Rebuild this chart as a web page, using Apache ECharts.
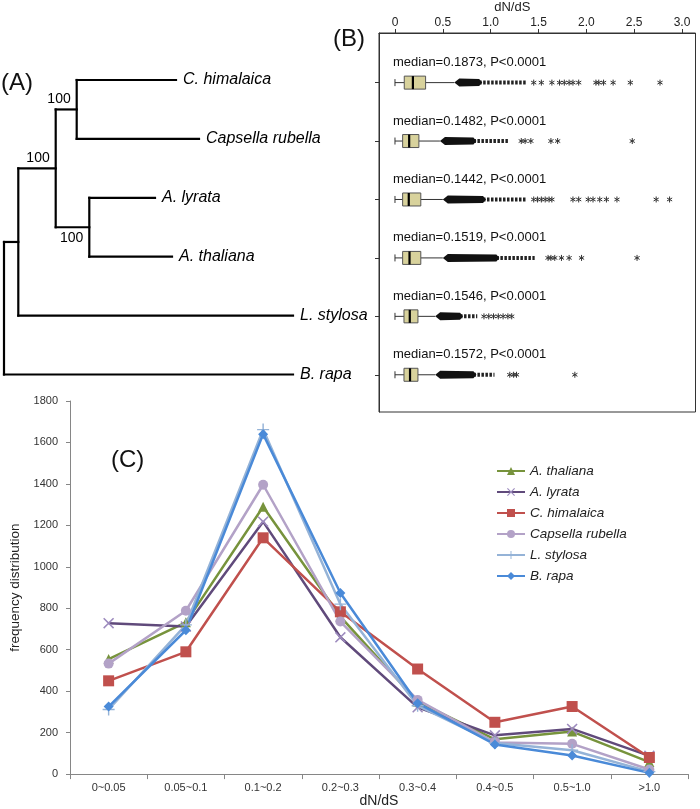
<!DOCTYPE html>
<html><head><meta charset="utf-8">
<script src="https://cdn.jsdelivr.net/npm/echarts@6/dist/echarts.min.js"></script>
<style>html,body{margin:0;padding:0;background:#fff}#c{width:700px;height:809px}</style>
</head><body><div id="c"></div><script>
// ---------- Panel A: tree ----------
const leafNames = ['C. himalaica', 'Capsella rubella', 'A. lyrata', 'A. thaliana', 'L. stylosa', 'B. rapa'];
const leafDepth = [172, 195, 151, 168, 289, 289];
const nodeNames = ['root', 'n1', 'n2', 'n3', 'n4'];
const nodeDepth = [0, 14.3, 51.7, 72.7, 85.3];
const nodeChildren = [['n1', 'B. rapa'], ['n2', 'L. stylosa'], ['n3', 'n4'], ['C. himalaica', 'Capsella rubella'], ['A. lyrata', 'A. thaliana']];
const nodeSupport = [null, null, '100', '100', '100'];
const nodeSupportSide = [null, null, 'above', 'above', 'below'];

// ---------- Panel B: dN/dS boxplots ----------
const boxQ1 = [0.097, 0.080, 0.080, 0.080, 0.094, 0.094];
const boxMedian = [0.1873, 0.1482, 0.1442, 0.1519, 0.1546, 0.1572];
const boxQ3 = [0.320, 0.250, 0.270, 0.270, 0.240, 0.240];
const whiskerHigh = [0.62, 0.47, 0.50, 0.50, 0.42, 0.42];
const denseEnd = [0.88, 0.82, 0.92, 1.06, 0.68, 0.82];
const chainEnd = [1.38, 1.18, 1.38, 1.46, 0.86, 1.04];
const boxLabels = ['median=0.1873, P<0.0001', 'median=0.1482, P<0.0001', 'median=0.1442, P<0.0001',
                   'median=0.1519, P<0.0001', 'median=0.1546, P<0.0001', 'median=0.1572, P<0.0001'];
const outliers = [
  [1.45, 1.53, 1.64, 1.72, 1.77, 1.82, 1.86, 1.92, 2.10, 2.13, 2.18, 2.28, 2.46, 2.77],
  [1.32, 1.36, 1.42, 1.63, 1.70, 2.48],
  [1.45, 1.49, 1.53, 1.57, 1.61, 1.64, 1.86, 1.92, 2.02, 2.07, 2.14, 2.21, 2.32, 2.73, 2.87],
  [1.60, 1.63, 1.67, 1.74, 1.82, 1.95, 2.53],
  [0.93, 0.98, 1.03, 1.08, 1.13, 1.18, 1.22],
  [1.20, 1.24, 1.27, 1.88]
];
const bTicks = [0, 0.5, 1.0, 1.5, 2.0, 2.5, 3.0];

// ---------- Panel C: frequency distribution ----------
const cCategories = ['0~0.05', '0.05~0.1', '0.1~0.2', '0.2~0.3', '0.3~0.4', '0.4~0.5', '0.5~1.0', '>1.0'];
const thaliana  = [555, 732, 1290, 760, 350, 168, 205, 58];
const lyrata    = [728, 712, 1218, 660, 322, 187, 218, 88];
const himalaica = [450, 590, 1140, 783, 507, 250, 326, 80];
const rubella   = [533, 788, 1396, 736, 358, 153, 146, 22];
const stylosa   = [312, 720, 1662, 820, 330, 150, 115, 12];
const rapa      = [326, 694, 1640, 874, 342, 143, 90, 6];

// ---- build tree segments from topology ----
const yIdx = {}; leafNames.forEach((n, i) => yIdx[n] = i);
const depthOf = {};
leafNames.forEach((n, i) => depthOf[n] = leafDepth[i]);
nodeNames.forEach((n, i) => depthOf[n] = nodeDepth[i]);
function yOf(n) {
  if (n in yIdx) return yIdx[n];
  const k = nodeNames.indexOf(n);
  const ys = nodeChildren[k].map(yOf);
  return yIdx[n] = (Math.min(...ys) + Math.max(...ys)) / 2;
}
const treeSegs = [];
const supportData = [];
nodeNames.forEach((n, k) => {
  const ys = nodeChildren[k].map(yOf);
  treeSegs.push([depthOf[n], Math.min(...ys), depthOf[n], Math.max(...ys)]);
  nodeChildren[k].forEach(c => treeSegs.push([depthOf[n], yOf(c), depthOf[c], yOf(c)]));
  if (nodeSupport[k]) supportData.push([depthOf[n], yOf(n), nodeSupport[k], nodeSupportSide[k]]);
});
const leafData = leafNames.map((n, i) => [leafDepth[i], i, n]);

const boxData = leafNames.map((n, i) => [i, boxQ1[i], boxMedian[i], boxQ3[i], whiskerHigh[i], denseEnd[i], chainEnd[i], boxLabels[i]]);
const outlierData = [];
outliers.forEach((arr, i) => arr.forEach(v => outlierData.push([v, i])));

const FONT = '"Liberation Sans", Arial, sans-serif';
const yMin = -0.849, yMax = 5.637;

const chart = echarts.init(document.getElementById('c'), null, {renderer: 'canvas'});
const option = {
  animation: false,
  textStyle: {fontFamily: FONT},
  grid: [
    {left: 0, top: 30, width: 379, height: 382},
    {left: 379, top: 30, width: 316.5, height: 382, show: true, borderColor: '#333', borderWidth: 1, backgroundColor: 'transparent'},
    {left: 70, right: 12, top: 401, bottom: 31}
  ],
  xAxis: [
    {gridIndex: 0, type: 'value', min: -4, max: 375, show: false},
    {gridIndex: 1, type: 'value', position: 'top', min: -0.167, max: 3.141,
     name: 'dN/dS', nameLocation: 'middle', nameGap: 19,
     nameTextStyle: {fontSize: 13, color: '#222', padding: [0, 50, 0, 0]},
     axisLine: {show: true, onZero: false, lineStyle: {color: '#333'}},
     axisTick: {show: true, length: 4, customValues: bTicks, lineStyle: {color: '#333'}},
     axisLabel: {customValues: bTicks, fontSize: 12, color: '#222', margin: 4,
                 formatter: v => v === 0 ? '0' : v.toFixed(1)},
     splitLine: {show: false}},
    {gridIndex: 2, type: 'category', data: cCategories,
     name: 'dN/dS', nameLocation: 'middle', nameGap: 11,
     nameTextStyle: {fontSize: 14, color: '#222'},
     axisLine: {lineStyle: {color: '#868686'}},
     axisTick: {show: true, length: 5, lineStyle: {color: '#868686'}},
     axisLabel: {fontSize: 11, color: '#333', margin: 8}}
  ],
  yAxis: [
    {gridIndex: 0, type: 'value', inverse: true, min: yMin, max: yMax, show: false},
    {gridIndex: 1, type: 'value', inverse: true, min: yMin, max: yMax,
     axisLine: {show: true, onZero: false, lineStyle: {color: '#333'}},
     axisTick: {show: true, length: 4, customValues: [0, 1, 2, 3, 4, 5], lineStyle: {color: '#333'}},
     axisLabel: {show: false}, splitLine: {show: false}},
    {gridIndex: 2, type: 'value', min: 0, max: 1800, interval: 200,
     name: 'frequency distribution', nameLocation: 'middle', nameGap: 48,
     nameTextStyle: {fontSize: 13.5, color: '#222'},
     axisLine: {show: true, lineStyle: {color: '#868686'}},
     axisTick: {show: true, length: 4, lineStyle: {color: '#868686'}},
     axisLabel: {fontSize: 11, color: '#333', margin: 12, formatter: v => String(v)},
     splitLine: {show: false}}
  ],
  legend: {
    orient: 'vertical', left: 491, top: 459, itemWidth: 28, itemHeight: 10, itemGap: 7,
    selectedMode: false,
    textStyle: {fontSize: 13.5, fontStyle: 'italic', color: '#222', lineHeight: 14, fontFamily: FONT},
    data: ['A. thaliana', 'A. lyrata', 'C. himalaica', 'Capsella rubella', 'L. stylosa', 'B. rapa']
  },
  graphic: [
    {type: 'text', left: 1, top: 71, style: {text: '(A)', font: '24px ' + FONT, fill: '#111'}},
    {type: 'text', left: 333, top: 27, style: {text: '(B)', font: '24px ' + FONT, fill: '#111'}},
    {type: 'text', left: 111, top: 448, style: {text: '(C)', font: '24px ' + FONT, fill: '#111'}}
  ],
  series: [
    // tree branches
    {type: 'custom', xAxisIndex: 0, yAxisIndex: 0, data: treeSegs, encode: {x: [0, 2], y: [1, 3]},
     renderItem: (p, api) => {
       const a = api.coord([api.value(0), api.value(1)]);
       const b = api.coord([api.value(2), api.value(3)]);
       return {type: 'line', shape: {x1: a[0], y1: a[1], x2: b[0], y2: b[1]},
               style: {stroke: '#000', lineWidth: 2.2, lineCap: 'square'}};
     }},
    // leaf labels
    {type: 'custom', xAxisIndex: 0, yAxisIndex: 0, data: leafData, encode: {x: 0, y: 1},
     renderItem: (p, api) => {
       const c = api.coord([api.value(0), api.value(1)]);
       return {type: 'text', x: c[0] + 7, y: c[1],
               style: {text: leafNames[p.dataIndex], font: 'italic 16px ' + FONT, fill: '#000', align: 'left', verticalAlign: 'middle'}};
     }},
    // bootstrap supports
    {type: 'custom', xAxisIndex: 0, yAxisIndex: 0, data: supportData, encode: {x: 0, y: 1},
     renderItem: (p, api) => {
       const d = supportData[p.dataIndex];
       const c = api.coord([d[0], d[1]]);
       const above = d[3] === 'above';
       return {type: 'text', x: c[0] - 6, y: above ? c[1] - 3 : c[1] + 4,
               style: {text: d[2], font: '14px ' + FONT, fill: '#000', align: 'right', verticalAlign: above ? 'bottom' : 'top'}};
     }},
    // boxplots
    {type: 'custom', xAxisIndex: 1, yAxisIndex: 1, data: boxData, encode: {x: [1, 6], y: 0},
     renderItem: (p, api) => {
       const d = boxData[p.dataIndex];
       const row = d[0];
       const P = v => api.coord([v, row]);
       const x0 = P(0)[0], y = P(0)[1];
       const xq1 = P(d[1])[0], xm = P(d[2])[0], xq3 = P(d[3])[0], xw = P(d[4])[0], xd = P(d[5])[0], xc = P(d[6])[0];
       const s = {stroke: '#333', lineWidth: 1};
       return {type: 'group', children: [
         {type: 'line', shape: {x1: x0, y1: y, x2: xq1, y2: y}, style: s},
         {type: 'line', shape: {x1: x0, y1: y - 3.5, x2: x0, y2: y + 3.5}, style: s},
         {type: 'line', shape: {x1: xq3, y1: y, x2: xw, y2: y}, style: s},
         {type: 'line', shape: {x1: xd, y1: y, x2: xc, y2: y}, style: {stroke: '#222', lineWidth: 4, lineDash: [2.5, 1.5]}},
         {type: 'polygon', shape: {points: [[xw, y], [xw + 5, y - 4], [xd, y - 3.5], [xd + 3, y], [xd, y + 3.5], [xw + 5, y + 4]]}, style: {fill: '#111'}},
         {type: 'rect', shape: {x: xq1, y: y - 6.5, width: xq3 - xq1, height: 13}, style: {fill: '#D8D29C', stroke: '#555', lineWidth: 1}},
         {type: 'line', shape: {x1: xm, y1: y - 6.5, x2: xm, y2: y + 6.5}, style: {stroke: '#000', lineWidth: 2.2}},
         {type: 'text', x: x0 - 2, y: y - 20, style: {text: d[7], font: '13px ' + FONT, fill: '#111', align: 'left', verticalAlign: 'middle'}}
       ]};
     }},
    // outlier asterisks
    {type: 'custom', xAxisIndex: 1, yAxisIndex: 1, data: outlierData, encode: {x: 0, y: 1},
     renderItem: (p, api) => {
       const c = api.coord([api.value(0), api.value(1)]);
       const st = {stroke: '#333', lineWidth: 1};
       return {type: 'group', children: [
         {type: 'line', shape: {x1: c[0], y1: c[1] - 3, x2: c[0], y2: c[1] + 3}, style: st},
         {type: 'line', shape: {x1: c[0] - 2.6, y1: c[1] - 1.5, x2: c[0] + 2.6, y2: c[1] + 1.5}, style: st},
         {type: 'line', shape: {x1: c[0] - 2.6, y1: c[1] + 1.5, x2: c[0] + 2.6, y2: c[1] - 1.5}, style: st}
       ]};
     }},
    // Panel C lines
    {name: 'A. thaliana', type: 'line', xAxisIndex: 2, yAxisIndex: 2, data: thaliana,
     symbol: 'triangle', symbolSize: 10, lineStyle: {width: 2.5, color: '#77933C'}, itemStyle: {color: '#77933C'}},
    {name: 'A. lyrata', type: 'line', xAxisIndex: 2, yAxisIndex: 2, data: lyrata,
     symbol: 'path://M0,1 L1,0 L5,4 L9,0 L10,1 L6,5 L10,9 L9,10 L5,6 L1,10 L0,9 L4,5 Z', symbolSize: 11,
     lineStyle: {width: 2.5, color: '#604A7B'}, itemStyle: {color: '#9D8BBE'}},
    {name: 'C. himalaica', type: 'line', xAxisIndex: 2, yAxisIndex: 2, data: himalaica,
     symbol: 'rect', symbolSize: 11, lineStyle: {width: 2.5, color: '#C0504D'}, itemStyle: {color: '#C0504D'}},
    {name: 'Capsella rubella', type: 'line', xAxisIndex: 2, yAxisIndex: 2, data: rubella,
     symbol: 'circle', symbolSize: 10, lineStyle: {width: 2.5, color: '#B3A2C7'}, itemStyle: {color: '#B3A2C7'}},
    {name: 'L. stylosa', type: 'line', xAxisIndex: 2, yAxisIndex: 2, data: stylosa,
     symbol: 'path://M4.4,0 H5.6 V4.4 H10 V5.6 H5.6 V10 H4.4 V5.6 H0 V4.4 H4.4 Z', symbolSize: 12,
     lineStyle: {width: 2.5, color: '#95B3D7'}, itemStyle: {color: '#95B3D7'}},
    {name: 'B. rapa', type: 'line', xAxisIndex: 2, yAxisIndex: 2, data: rapa,
     symbol: 'diamond', symbolSize: 10, lineStyle: {width: 2.5, color: '#4A8AD8'}, itemStyle: {color: '#4A8AD8'}}
  ]
};
chart.setOption(option);
</script></body></html>
